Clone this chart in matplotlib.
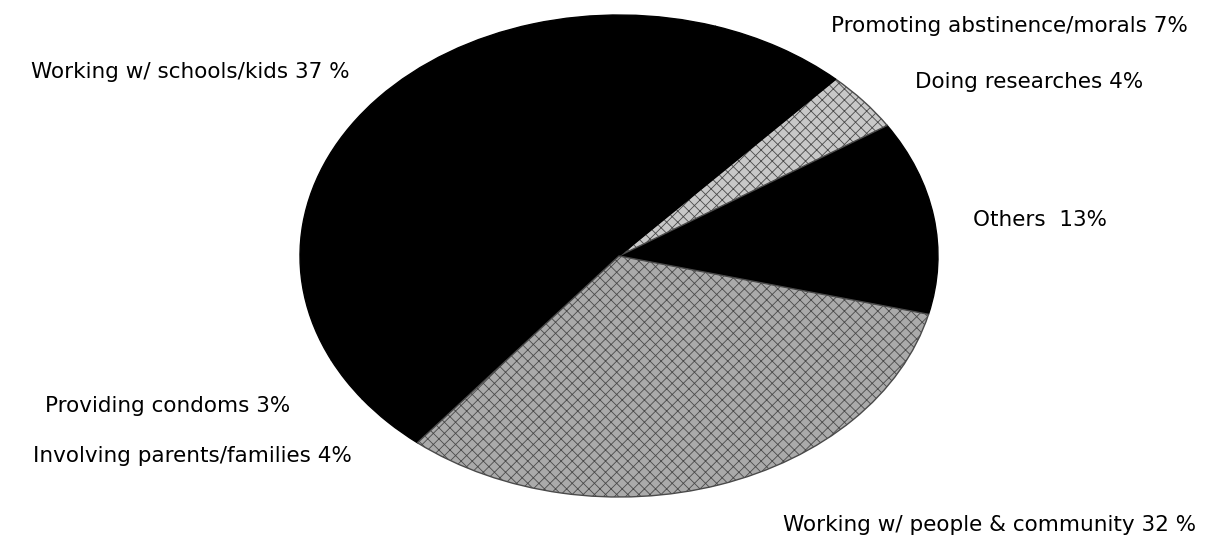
import matplotlib
matplotlib.use("Agg")
import matplotlib.pyplot as plt

categories = ["Others", "Doing researches", "Promoting abstinence/morals",
              "Working w/ schools/kids", "Providing condoms",
              "Involving parents/families", "Working w/ people & community"]
values = [13, 4, 7, 37, 3, 4, 32]
label_texts = ["Others  13%", "Doing researches 4%", "Promoting abstinence/morals 7%",
               "Working w/ schools/kids 37 %", "Providing condoms 3%",
               "Involving parents/families 4%", "Working w/ people & community 32 %"]
colors = ["black", "#c8c8c8", "black", "black", "black", "black", "#aaaaaa"]
hatches = [None, "xxx", None, None, None, None, "xxx"]

# label centre positions in figure pixels (x, y from top)
label_pos = [(1040, 220), (1029, 82), (1009, 26), (190, 72), (168, 406), (192, 456), (990, 525)]

W, H = 1215, 539
fig = plt.figure(figsize=(W / 100, H / 100), dpi=100)
fig.patch.set_facecolor("white")

cx, cy, rx, ry = 619, 256, 319, 241
ax = fig.add_axes([(cx - rx) / W, (H - cy - ry) / H, 2 * rx / W, 2 * ry / H])
plt.rcParams['hatch.linewidth'] = 0.6
wedges, _ = ax.pie(values, colors=colors, startangle=-14, counterclock=True,
                   wedgeprops=dict(edgecolor="black", linewidth=1.0))
for w, h in zip(wedges, hatches):
    if h:
        w.set_hatch(h)
        w.set_edgecolor("#4a4a4a")
ax.set_aspect("auto")
ax.set_xlim(-1.0, 1.0)
ax.set_ylim(-1.0, 1.0)
ax.axis("off")

for txt, (x, y) in zip(label_texts, label_pos):
    fig.text(x / W, 1 - y / H, txt, ha="center", va="center",
             fontsize=15.5, family="DejaVu Sans", color="black")

fig.savefig("out.png", dpi=100, facecolor="white")
